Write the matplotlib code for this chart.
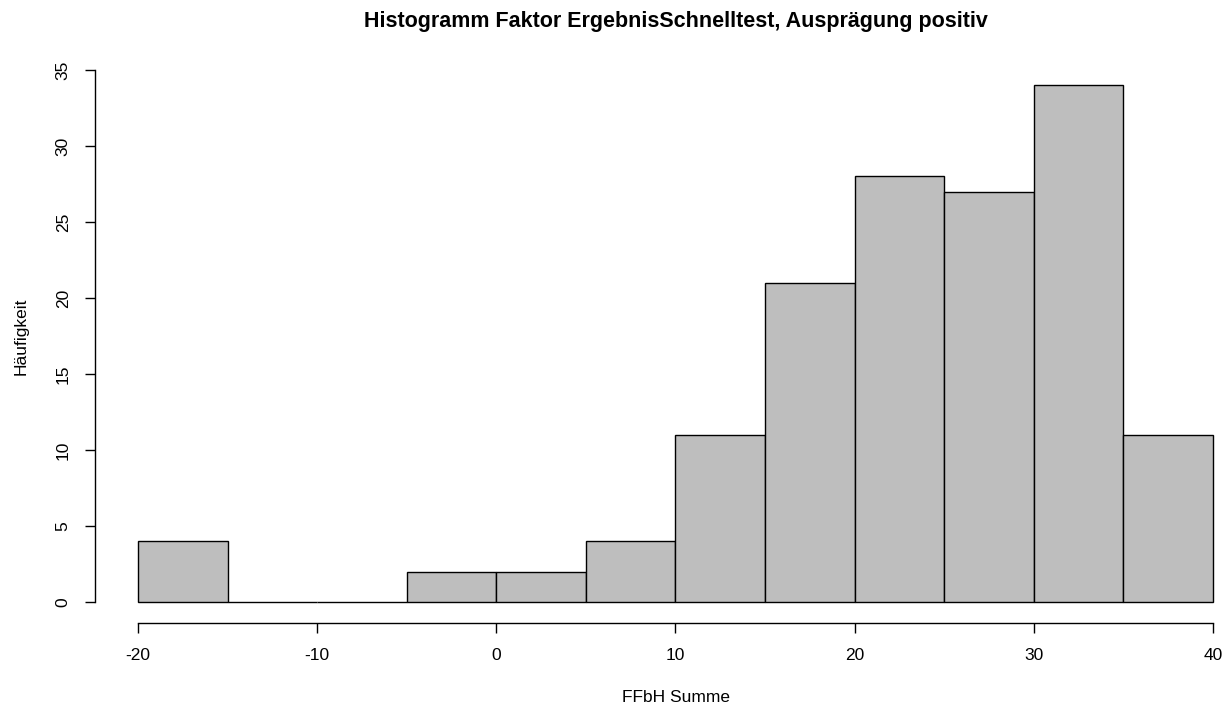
import numpy as np
import matplotlib.pyplot as plt

plt.rcParams['font.family'] = ['Liberation Sans', 'DejaVu Sans']

# Klassengrenzen und Häufigkeiten
bin_edges = [-20, -15, -10, -5, 0, 5, 10, 15, 20, 25, 30, 35, 40]
counts = [4, 0, 0, 2, 2, 4, 11, 21, 28, 27, 34, 11]
x_ticks = [-20, -10, 0, 10, 20, 30, 40]
y_ticks = [0, 5, 10, 15, 20, 25, 30, 35]

W, H = 1231, 706
fig = plt.figure(figsize=(W / 100, H / 100), dpi=100)

# Plotbereich in Pixeln (rechts etwas über den Rand hinaus, wie bei R mit 4 % Puffer)
left, right, bottom, top = 95, 1256, 623.3, 48.7
ax = fig.add_axes([left / W, 1 - bottom / H, (right - left) / W, (bottom - top) / H])
centre_x = (left + right) / 2 / W

lefts = np.array(bin_edges[:-1])
widths = np.diff(bin_edges)
ax.bar(lefts, counts, width=widths, align='edge', color='#BEBEBE',
       edgecolor='black', linewidth=1.0, clip_on=False)

ax.set_xlim(-22.4, 42.4)
ax.set_ylim(-1.4, 36.4)

for s in ['top', 'right']:
    ax.spines[s].set_visible(False)
ax.spines['left'].set_bounds(0, 35)
ax.spines['bottom'].set_bounds(-20, 40)
ax.spines['left'].set_linewidth(1.0)
ax.spines['bottom'].set_linewidth(1.0)

ax.set_xticks(x_ticks)
ax.set_xticklabels([str(t) for t in x_ticks])
ax.set_yticks(y_ticks)
ax.set_yticklabels([str(t) for t in y_ticks], rotation=90, va='center')
ax.tick_params(axis='both', direction='out', length=7, width=1.0,
               labelsize=12.5, pad=10.5)

fig.text(centre_x, 1 - 21 / H, 'Histogramm Faktor ErgebnisSchnelltest, Ausprägung positiv',
         ha='center', va='center', fontsize=15.5, fontweight='bold')
fig.text(centre_x, 1 - 697 / H, 'FFbH Summe', ha='center', va='center', fontsize=12.5)
fig.text(21 / W, 1 - 336 / H, 'Häufigkeit', ha='center', va='center',
         fontsize=12.5, rotation=90)

fig.savefig('out.png', dpi=100)
